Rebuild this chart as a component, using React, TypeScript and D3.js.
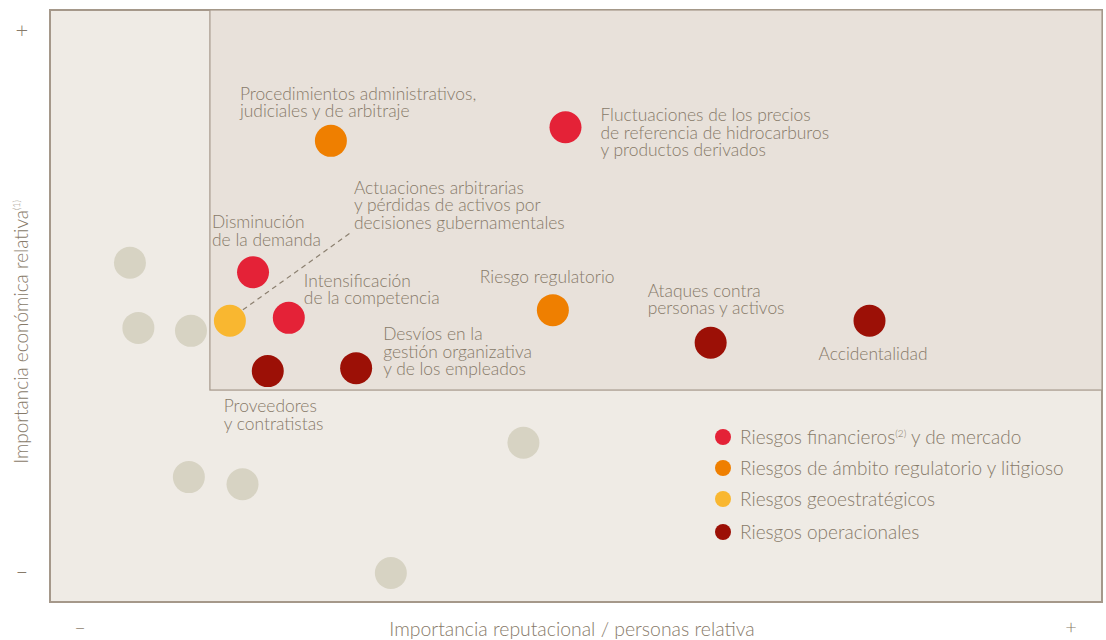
import React from "react";
import * as d3 from "d3";

// risk categories
const categories = ["financieros", "regulatorio", "geoestrategicos", "operacionales"];
const categoryColors = ["#e42237", "#ef7f00", "#f9b730", "#9c1006"];
const legendLabels = [
  ["Riesgos financieros", "(2)", " y de mercado"],
  ["Riesgos de ámbito regulatorio y litigioso", "", ""],
  ["Riesgos geoestratégicos", "", ""],
  ["Riesgos operacionales", "", ""],
];

// named risks: x = reputational importance, y = economic importance (0-100)
const riskNames = [
  "Procedimientos administrativos,|judiciales y de arbitraje",
  "Fluctuaciones de los precios|de referencia de hidrocarburos|y productos derivados",
  "Disminución|de la demanda",
  "Intensificación|de la competencia",
  "Actuaciones arbitrarias|y pérdidas de activos por|decisiones gubernamentales",
  "Proveedores|y contratistas",
  "Desvíos en la|gestión organizativa|y de los empleados",
  "Riesgo regulatorio",
  "Ataques contra|personas y activos",
  "Accidentalidad",
];
const riskCategory = [1, 0, 0, 0, 2, 3, 3, 1, 3, 3];
const riskX = [26.7, 49.0, 19.3, 22.7, 17.1, 20.7, 29.1, 47.8, 62.8, 77.9];
const riskY = [77.9, 80.2, 55.7, 48.0, 47.5, 39.0, 39.5, 49.3, 43.8, 47.5];

// unnamed (grey) risks
const otherX = [7.6, 8.4, 13.4, 13.2, 18.3, 45.0, 32.4];
const otherY = [57.3, 46.3, 45.8, 21.1, 19.9, 26.9, 4.9];

// highlighted zone
const zoneX = 15.2;
const zoneY = 35.8;

const W = 1106;
const H = 640;
const left = 50, right = 1102, top = 10, bottom = 602;
const textColor = "#877a69";
const font = "Lato, 'Open Sans', sans-serif";

// label placement relative to its dot: [dx, dy of first baseline]
const labelOffset: [number, number][] = [
  [-91, -41],
  [35, -6],
  [-41, -44],
  [15, -31],
  [124, -127],
  [-44, 41],
  [27, -28],
  [-73, -27],
  [-63, -46],
  [-51, 39],
];

export default function App() {
  const x = d3.scaleLinear().domain([0, 100]).range([left, right]);
  const y = d3.scaleLinear().domain([0, 100]).range([bottom, top]);
  const r = 16;
  const lh = 17.5;

  // dashed leader line for the geostrategic dot
  const gi = 4;
  const gx = x(riskX[gi]), gy = y(riskY[gi]);
  const leader = d3.line()([
    [gx + 13, gy - 11],
    [gx + labelOffset[gi][0] - 2, gy + labelOffset[gi][1] + 2 * lh + 3],
  ]);

  return (
    <svg width={W} height={H} style={{ position: "absolute", left: 0, top: 0 }} fontFamily={font}>
      <rect x={left} y={top} width={right - left} height={bottom - top} fill="#efebe5" stroke="#a5988a" strokeWidth={2} />
      <rect x={x(zoneX)} y={top} width={right - x(zoneX)} height={y(zoneY) - top} fill="#e8e1da" stroke="#a5988a" strokeWidth={1.2} />

      {otherX.map((v, i) => (
        <circle key={"o" + i} cx={x(v)} cy={y(otherY[i])} r={r} fill="#d7d3c3" />
      ))}

      <path d={leader ?? ""} stroke="#8c8070" strokeWidth={1.2} strokeDasharray="5,4" fill="none" />

      {riskX.map((v, i) => (
        <circle key={"r" + i} cx={x(v)} cy={y(riskY[i])} r={r} fill={categoryColors[riskCategory[i]]} />
      ))}

      {riskNames.map((name, i) => (
        <text key={"t" + i} x={x(riskX[i]) + labelOffset[i][0]} y={y(riskY[i]) + labelOffset[i][1]}
          fontSize={17.4} fontWeight={300} fill={textColor}>
          {name.split("|").map((line, j) => (
            <tspan key={j} x={x(riskX[i]) + labelOffset[i][0]} dy={j === 0 ? 0 : lh}>{line}</tspan>
          ))}
        </text>
      ))}

      {/* legend */}
      {categories.map((c, i) => (
        <g key={c} transform={`translate(723, ${437 + i * 31 + (i === 3 ? 2 : 0)})`}>
          <circle r={8} fill={categoryColors[i]} />
          <text x={17} y={7} fontSize={19} fontWeight={300} fill={textColor}>
            {legendLabels[i][0]}
            {legendLabels[i][1] && <tspan fontSize={10} dy={-7}>{legendLabels[i][1]}</tspan>}
            {legendLabels[i][2] && <tspan dy={7}>{legendLabels[i][2]}</tspan>}
          </text>
        </g>
      ))}

      {/* axes */}
      <text x={22} y={38} fontSize={22} fontWeight={300} fill={textColor} textAnchor="middle">+</text>
      <text x={22} y={579} fontSize={22} fontWeight={300} fill={textColor} textAnchor="middle">–</text>
      <text transform="translate(28, 332) rotate(-90)" fontSize={19} fontWeight={300} fill={textColor} textAnchor="middle">
        Importancia económica relativa<tspan fontSize={9} dy={-8}>(1)</tspan>
      </text>
      <text x={80} y={634} fontSize={20} fontWeight={300} fill={textColor} textAnchor="middle">–</text>
      <text x={572} y={636} fontSize={19.4} fontWeight={300} fill={textColor} textAnchor="middle">
        Importancia reputacional / personas relativa
      </text>
      <text x={1071} y={634} fontSize={20} fontWeight={300} fill={textColor} textAnchor="middle">+</text>
    </svg>
  );
}
